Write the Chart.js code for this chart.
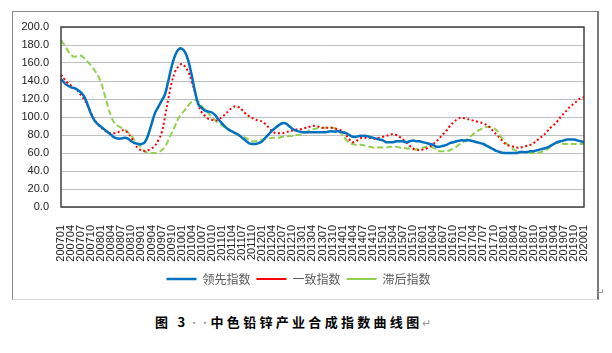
<!DOCTYPE html>
<html>
<head>
<meta charset="utf-8">
<script src="https://cdn.jsdelivr.net/npm/chart.js@4.4.1/dist/chart.umd.min.js"></script>
<style>
  html, body { margin: 0; padding: 0; background: #fff; }
  body { width: 612px; height: 353px; position: relative; overflow: hidden; }
  #box {
    position: absolute; left: 12px; top: 11px; width: 587px; height: 289px;
    box-sizing: border-box; border: 1px solid #8a8a8a; border-right: 2px solid #7a7a7a;
    border-bottom-color: #d9d9d9;
  }
  #box canvas { display: block; }
  #caption {
    position: absolute; left: 155px; top: 312px;
    font-family: "Noto Sans CJK SC", sans-serif; font-weight: bold; font-size: 13px;
    letter-spacing: 3.3px; color: #000; white-space: nowrap;
  }
  .mark { color: #9a9a9a; font-weight: normal; letter-spacing: 0; font-size: 11px; }
  #ret { position: absolute; left: 596px; top: 287px; font-size: 10px; color: #888; font-family: "DejaVu Sans"; }
</style>
</head>
<body>
<div id="box"><canvas id="c" width="584" height="287"></canvas></div>
<div id="ret">↵</div>
<div id="caption">图 3<span class="mark">··</span>中色铅锌产业合成指数曲线图<span class="mark">↵</span></div>
<script>
// monthly categories 200701 .. 202001
const years = [2007, 2008, 2009, 2010, 2011, 2012, 2013, 2014, 2015, 2016, 2017, 2018, 2019];
const months = ['01', '02', '03', '04', '05', '06', '07', '08', '09', '10', '11', '12'];
const labels = [];
years.forEach(y => months.forEach(m => labels.push(y + m)));
labels.push('202001');

const yTicks = [0, 20, 40, 60, 80, 100, 120, 140, 160, 180, 200];

// 领先指数
const leading = [
  142, 138, 135, 133, 132, 130, 127, 122, 113, 103, 96, 92,
  89, 86, 83, 80, 77, 76, 76, 77, 76, 73, 71, 70,
  70, 72, 80, 92, 104, 111, 118, 125, 140, 156, 168, 175,
  176, 172, 162, 146, 128, 114, 110, 107, 106, 105, 102, 97,
  93, 89, 86, 84, 82, 80, 77, 74, 71, 70, 70, 71,
  73, 77, 81, 85, 88, 91, 93, 93, 90, 87, 85, 84,
  83, 83, 83, 83, 83, 83, 83, 83, 84, 84, 84, 84,
  83, 82, 80, 78, 78, 79, 79, 79, 78, 77, 76, 75,
  74, 72, 72, 72, 73, 73, 73, 72, 73, 74, 73, 73,
  72, 71, 70, 69, 67, 67, 68, 69, 71, 72, 73, 74,
  74, 74, 74, 73, 72, 71, 70, 68, 66, 64, 62, 61,
  60, 60, 60, 60, 60, 61, 61, 61, 62, 62, 63, 64,
  65, 66, 68, 70, 72, 73, 74, 75, 75, 75, 74, 73,
  72
];

// 一致指数
const coincident = [
  147, 142, 138, 135, 132, 129, 124, 119, 112, 104, 97, 92,
  88, 85, 83, 82, 82, 83, 85, 85, 82, 77, 70, 65,
  63, 62, 63, 65, 68, 74, 82, 100, 120, 138, 150, 156,
  159, 156, 150, 139, 127, 113, 105, 101, 98, 97, 96, 97,
  100, 103, 107, 110, 112, 111, 108, 104, 101, 99, 97, 96,
  95, 92, 88, 84, 82, 82, 82, 83, 84, 85, 86, 86,
  87, 88, 89, 90, 90, 89, 88, 88, 88, 88, 87, 86,
  84, 80, 75, 72, 73, 76, 77, 77, 77, 76, 76, 77,
  78, 79, 80, 81, 80, 78, 75, 72, 68, 65, 64, 63,
  64, 65, 67, 70, 73, 77, 81, 85, 90, 94, 97, 99,
  99, 98, 97, 96, 95, 94, 93, 91, 88, 84, 80, 76,
  72, 69, 68, 67, 66, 66, 67, 68, 69, 71, 74, 77,
  80, 84, 88, 91, 95, 100, 104, 108, 112, 115, 118, 121,
  122
];

// 滞后指数
const lagging = [
  185, 180, 174, 169, 167, 168, 168, 165, 161, 157, 152, 146,
  138, 125, 112, 100, 93, 90, 88, 86, 83, 79, 74, 70,
  66, 62, 60, 60, 60, 61, 63, 67, 74, 82, 90, 98,
  104, 108, 113, 117, 119, 117, 112, 108, 104, 100, 96, 93,
  91, 88, 86, 84, 82, 80, 78, 77, 75, 73, 73, 74,
  75, 76, 76, 77, 77, 77, 78, 78, 79, 79, 80, 80,
  81, 83, 85, 86, 87, 88, 88, 88, 88, 88, 87, 84,
  80, 75, 71, 70, 69, 69, 69, 68, 67, 66, 66, 66,
  66, 66, 67, 67, 67, 66, 66, 65, 65, 64, 64, 65,
  66, 67, 67, 66, 64, 62, 62, 62, 63, 65, 67, 70,
  72, 75, 78, 81, 84, 86, 88, 89, 89, 88, 85, 79,
  74, 70, 67, 64, 62, 61, 61, 60, 60, 60, 60, 61,
  62, 64, 67, 70, 71, 71, 70, 70, 70, 70, 70, 70,
  70
];

// dark frame round the plot area
const plotFrame = {
  id: 'plotFrame',
  afterDraw(chart) {
    const a = chart.chartArea, ctx = chart.ctx;
    ctx.save();
    ctx.strokeStyle = '#404040';
    ctx.lineWidth = 1.5;
    ctx.strokeRect(a.left, a.top, a.right - a.left, a.bottom - a.top);
    ctx.restore();
  }
};

const noPad = s => { s.paddingLeft = 0; s.paddingRight = 0; s.paddingTop = 0; s.paddingBottom = 0; };

new Chart(document.getElementById('c'), {
  type: 'line',
  data: {
    labels: labels,
    datasets: [
      {
        label: '领先指数',
        data: leading,
        borderColor: '#0070C0',
        backgroundColor: '#0070C0',
        borderWidth: 2.5,
        tension: 0.4,
        pointRadius: 0,
        pointStyle: 'line'
      },
      {
        label: '一致指数',
        data: coincident,
        borderColor: '#FF0000',
        backgroundColor: '#FF0000',
        borderWidth: 2,
        borderDash: [2, 2.5],
        tension: 0.4,
        pointRadius: 0,
        pointStyle: 'line'
      },
      {
        label: '滞后指数',
        data: lagging,
        borderColor: '#92D050',
        backgroundColor: '#92D050',
        borderWidth: 2,
        borderDash: [6, 3],
        tension: 0.4,
        pointRadius: 0,
        pointStyle: 'line'
      }
    ]
  },
  options: {
    responsive: false,
    animation: false,
    layout: { padding: { left: 0, right: 13, top: 15, bottom: 4 } },
    plugins: {
      legend: {
        display: true,
        position: 'bottom',
        labels: {
          usePointStyle: true,
          pointStyleWidth: 30,
          boxHeight: 10,
          padding: 6,
          color: '#595959',
          font: { family: 'Noto Sans CJK SC', size: 12 }
        }
      },
      tooltip: { enabled: false }
    },
    scales: {
      x: {
        offset: false,
        grid: { display: false },
        border: { display: false },
        afterFit: s => { s.height = 60; noPad(s); },
        ticks: {
          autoSkip: false,
          minRotation: 90,
          maxRotation: 90,
          padding: 10,
          color: '#222',
          font: { family: 'Liberation Sans', size: 11 },
          callback: function(v, i) { return i % 3 === 0 ? this.getLabelForValue(v) : null; }
        }
      },
      y: {
        min: 0,
        max: 200,
        afterBuildTicks: s => { s.ticks = yTicks.map(v => ({ value: v })); },
        afterFit: s => { s.width = 48; noPad(s); },
        grid: { color: '#C0C0C0', lineWidth: 1, drawTicks: false },
        border: { display: false },
        ticks: {
          padding: 12,
          color: '#222',
          font: { family: 'Liberation Sans', size: 11 },
          callback: v => v.toFixed(1)
        }
      }
    }
  },
  plugins: [plotFrame]
});
</script>
</body>
</html>
